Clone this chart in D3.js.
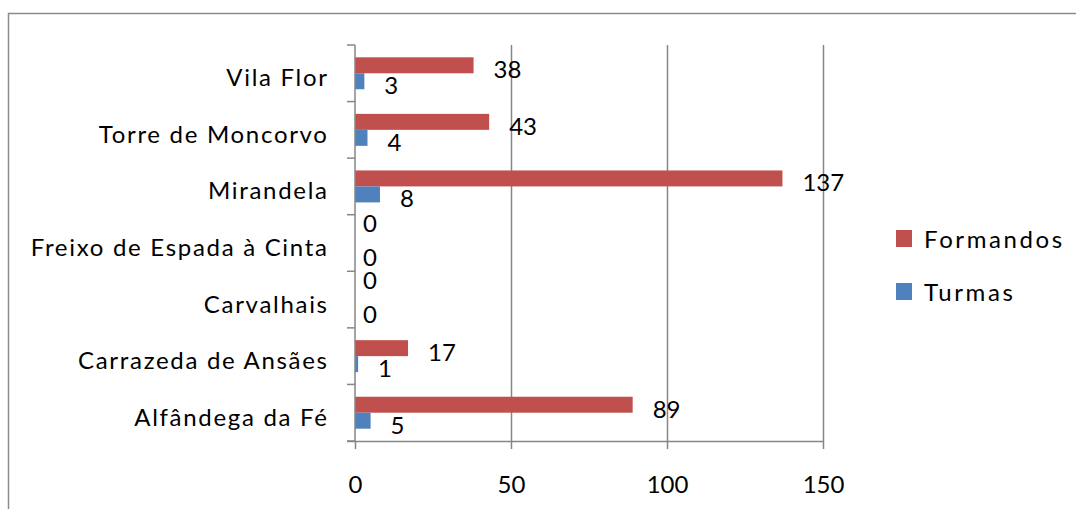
<!DOCTYPE html>
<html><head><meta charset="utf-8">
<script src="https://cdn.jsdelivr.net/npm/d3@7"></script>
<style>html,body{margin:0;padding:0;background:#fff;}svg{display:block;}</style>
</head><body>
<svg id="c" width="1076" height="509"></svg>
<script>
const categories = ["Vila Flor","Torre de Moncorvo","Mirandela","Freixo de Espada à Cinta","Carvalhais","Carrazeda de Ansães","Alfândega da Fé"];
const formandos = [38,43,137,0,0,17,89];
const turmas = [3,4,8,0,0,1,5];
const seriesNames = ["Formandos","Turmas"];
const xTicks = [0,50,100,150];

const colors = {Formandos:"#C0504D", Turmas:"#4F81BD"};
const FONT = "Lato, 'Open Sans', sans-serif";
const FS = 24;
const gridColor = "#868686";

const svg = d3.select("#c");
// outer frame
svg.append("rect").attr("x",8.5).attr("y",13.5).attr("width",1100).attr("height",600)
  .attr("fill","none").attr("stroke","#8c8c8c").attr("stroke-width",1.5);

const L=355, R=823, T=45, B=441;
const x = d3.scaleLinear().domain([0,150]).range([L,R]);
const y = d3.scaleBand().domain(categories).range([T,B]).paddingInner(0).paddingOuter(0);
const ys = d3.scaleBand().domain(seriesNames).range([0,y.bandwidth()]).paddingInner(0).paddingOuter(0.77);

// gridlines
const grid = svg.append("g").attr("transform",`translate(0,${B})`)
  .call(d3.axisBottom(x).tickValues(xTicks.slice(1)).tickSize(-(B-T)).tickFormat(""));
grid.select(".domain").remove();
grid.selectAll("line").attr("stroke",gridColor).attr("stroke-width",1.5);

const rows = categories.map((c,i)=>({cat:c, Formandos:formandos[i], Turmas:turmas[i]}));
const data = [];
rows.forEach(r=>seriesNames.forEach(s=>data.push({cat:r.cat, s, v:r[s]})));

svg.append("g").selectAll("rect").data(data).join("rect")
  .attr("x",x(0)).attr("y",d=>y(d.cat)+ys(d.s))
  .attr("width",d=>x(d.v)-x(0)).attr("height",ys.bandwidth())
  .attr("fill",d=>colors[d.s]);

// bottom axis
const xa = svg.append("g").attr("transform",`translate(0,${B})`)
  .call(d3.axisBottom(x).tickValues(xTicks).tickSize(8).tickSizeOuter(0).tickPadding(27));
xa.select(".domain").attr("stroke",gridColor).attr("stroke-width",1.5).attr("d",`M${L-8},0.5H${R}`);
xa.selectAll("line").attr("stroke",gridColor).attr("stroke-width",1.5);
xa.selectAll("text").attr("font-family",FONT).attr("font-size",FS).attr("fill","#000");

// left axis: ticks at band boundaries
const bounds = categories.map(c=>y(c)).concat([y(categories[categories.length-1])+y.bandwidth()]);
const la = svg.append("g");
la.append("line").attr("x1",L).attr("x2",L).attr("y1",T).attr("y2",B).attr("stroke",gridColor).attr("stroke-width",1.5);
la.selectAll("line.t").data(bounds).join("line").attr("class","t")
  .attr("x1",L-8).attr("x2",L).attr("y1",d=>d).attr("y2",d=>d).attr("stroke",gridColor).attr("stroke-width",1.5);
la.selectAll("text").data(categories).join("text")
  .attr("x",328.7).attr("y",d=>y(d)+y.bandwidth()/2+13)
  .attr("text-anchor","end").attr("font-family",FONT).attr("font-size",FS).attr("fill","#000")
  .attr("letter-spacing","1.7px")
  .text(d=>d);

// value labels
svg.append("g").selectAll("text").data(data).join("text")
  .attr("x",d=>x(d.v)+(d.v===0?8:20))
  .attr("y",d=>{
    const c=y(d.cat)+ys(d.s)+ys.bandwidth()/2;
    let off=4;
    if(d.v===0) off = d.s==="Formandos" ? -12 : 6;
    return c+off+9;
  })
  .attr("font-family",FONT).attr("font-size",FS).attr("fill","#000")
  .text(d=>d.v);

// legend
const lg = svg.append("g").selectAll("g").data(seriesNames).join("g")
  .attr("transform",(d,i)=>`translate(896,${230+i*53})`);
lg.append("rect").attr("width",16).attr("height",17).attr("fill",d=>colors[d]);
lg.append("text").attr("x",28).attr("y",18).attr("font-family",FONT).attr("font-size",FS)
  .attr("letter-spacing","2.6px").attr("fill","#000").text(d=>d);
</script>
</body></html>
